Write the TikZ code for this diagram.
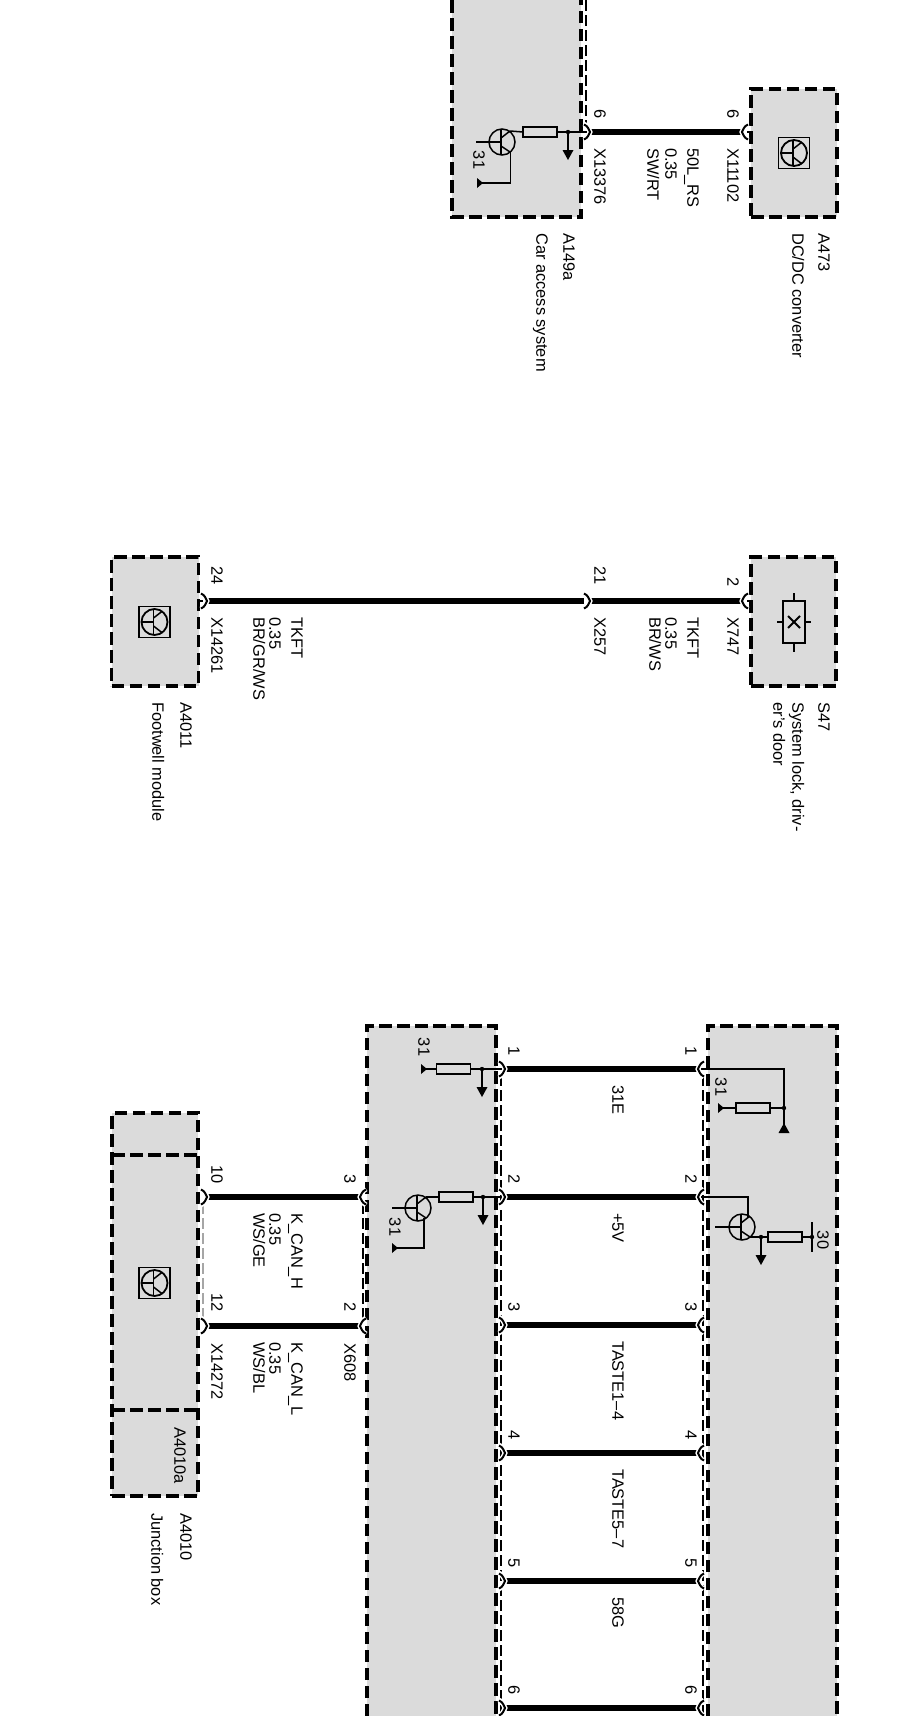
\documentclass[tikz,border=0pt]{standalone}
\usepackage{fontspec}
\setmainfont{Liberation Sans}
\definecolor{unitgray}{HTML}{DBDBDB}
\tikzset{
  boxline/.style={line width=3.5pt,dash pattern=on 12.5pt off 5.5pt},
  unitbox/.style={draw,fill=unitgray,boxline,inner sep=0pt},
  thindash/.style={line width=1.3pt,dash pattern=on 11pt off 4pt},
  wire/.style={line width=5.2pt},
  sym/.style={line width=1.5pt},
  res/.style={draw,line width=1.5pt,fill=unitgray,minimum width=34pt,minimum height=10pt,inner sep=0pt},
  lab/.style={rotate=-90,inner sep=0pt,text height=11.5pt,text depth=0pt,font=\fontsize{16.4}{18}\selectfont},
  labs/.style={lab,anchor=west},
  labe/.style={lab,anchor=east},
  labc/.style={lab,anchor=center},
}
% connector chevron: tip at (x,y), dir +1 = tip to the right
\newcommand{\conn}[3]{%
  \draw[white,line width=5pt] ({#1-6*#3},#2-8) .. controls ({#1-2*#3},#2-6) and ({#1-1*#3},#2-2) .. (#1,#2)
     .. controls ({#1-1*#3},#2+2) and ({#1-2*#3},#2+6) .. ({#1-6*#3},#2+8);
  \draw[line width=2pt] ({#1-6*#3},#2-7.5) .. controls ({#1-2*#3},#2-6) and ({#1-1*#3},#2-2) .. (#1,#2)
     .. controls ({#1-1*#3},#2+2) and ({#1-2*#3},#2+6) .. ({#1-6*#3},#2+7.5);}
\newcommand{\wirerun}[4]{%
  \coordinate (#1a) at (#2,#3); \coordinate (#1b) at (#4,#3);
  \draw[wire] (#1a) -- (#1b);}
% transistor body
\newcommand{\tran}[2]{%
  \draw[sym] (#1,#2) circle (13);
  \draw[sym] (#1-1,#2-12) -- (#1-1,#2+12);
  \draw[sym] (#1-1,#2-4) -- (#1+8,#2-11);
  \draw[sym] (#1-1,#2+4) -- (#1+8,#2+10);}
% control unit icon
\newcommand{\icon}[2]{%
  \draw[line width=1.6pt] (#1-15.5,#2-15.5) rectangle (#1+15.5,#2+15.5);
  \draw[line width=1.8pt] (#1,#2) circle (13);
  \draw[line width=1.5pt] (#1-13,#2) -- (#1-1,#2);
  \draw[line width=1.5pt] (#1-1,#2-12) -- (#1-1,#2+12);
  \draw[line width=1.5pt] (#1-1,#2-4) -- (#1+8,#2-11);
  \draw[line width=1.5pt] (#1-1,#2+4) -- (#1+8,#2+11);}
\newcommand{\darr}[3]{%
  \draw[sym] (#1,#2) -- (#1,#3-8);
  \fill (#1-5.5,#3-10) -- (#1+5.5,#3-10) -- (#1,#3) -- cycle;
  \fill (#1,#2) circle (2.2);}
\newcommand{\gndl}[2]{\fill (#1,#2-5) -- (#1+6,#2) -- (#1,#2+5) -- cycle;}
\begin{document}
\begin{tikzpicture}[x=1pt,y=-1pt]
\useasboundingbox (0,0) rectangle (909,1732);
\fill[white] (0,0) rectangle (909,1732);

% ---------- top group
\fill[unitgray] (452,0) rectangle (581,217);
\draw[boxline] (452,0) -- (452,217) -- (581,217) -- (581,0);
\node[unitbox,minimum width=86pt,minimum height=128pt] (a473) at (794,153) {};
\draw[thindash] (586,0) -- (586,126);
\icon{794}{153}
\tran{502}{142}
\draw[sym] (476,142) -- (501,142);
\draw[sym] (510,131) -- (523,132);
\node[res] (r1) at (540,132) {};
\draw[sym] (r1.east) -- (590,132);
\draw[sym] (510.5,152) -- (510.5,183) -- (480,183);
\gndl{477}{183}
\darr{568}{132}{160}
\node[labc] (t31a) at (479,160) {31};
\wirerun{wA}{590}{132}{742}
\draw[sym] (747,132) -- (751,132);
\conn{590}{132}{1}\conn{742}{132}{-1}
\node[labe] (n6a) at (600,119) {6};
\node[labe] (n6b) at (733,119) {6};
\node[labs] (x13376) at (600,148) {X13376};
\node[labs] (x11102) at (733,148) {X11102};
\node[labs] (l50) at (693,148) {50L\_RS};
\node[labs] (l035a) at (671,148) {0.35};
\node[labs] (lswrt) at (653,148) {SW/RT};
\node[labs] (a149a) at (569,233) {A149a};
\node[labs] (car) at (542,233) {Car access system};
\node[labs] (a473t) at (824,233) {A473};
\node[labs] (dcdc) at (798,233) {DC/DC converter};

% ---------- middle group
\node[unitbox,minimum width=87pt,minimum height=129pt] (a4011) at (155,621.5) {};
\node[unitbox,minimum width=85pt,minimum height=129pt] (s47) at (793.5,621.5) {};
\icon{154.5}{622}
\draw[sym] (783,601) rectangle (805,643);
\draw[sym] (794,593) -- (794,601) (794,643) -- (794,652) (777,622) -- (783,622) (805,622) -- (811,622);
\draw[line width=1.8pt] (788,616) -- (800,628) (788,628) -- (800,616);
\draw[sym] (198,601) -- (203,601) (747,601) -- (751,601);
\wirerun{wB}{207}{601}{584}
\wirerun{wC}{590}{601}{742}
\conn{207}{601}{1}\conn{590}{601}{1}\conn{742}{601}{-1}
\node[labe] (n24) at (217,585) {24};
\node[labe] (n21) at (600,585) {21};
\node[labe] (n2m) at (733,587) {2};
\node[labs] (x14261) at (217,617) {X14261};
\node[labs] (x257) at (600,617) {X257};
\node[labs] (x747) at (733,617) {X747};
\node[labs] (tk1) at (297,617) {TKFT};
\node[labs] (tk1b) at (275,617) {0.35};
\node[labs] (tk1c) at (259,617) {BR/GR/WS};
\node[labs] (tk2) at (693,617) {TKFT};
\node[labs] (tk2b) at (671,617) {0.35};
\node[labs] (tk2c) at (655,617) {BR/WS};
\node[labs] (a4011t) at (186,702) {A4011};
\node[labs] (foot) at (158,702) {Footwell module};
\node[labs] (s47t) at (824,702) {S47};
\node[labs] (sys) at (798,702) {System lock, driv-};
\node[labs] (sys2) at (779,702) {er's door};

% ---------- lower group
\fill[unitgray] (367,1026) rectangle (496,1716);
\fill[unitgray] (708,1026) rectangle (837,1716);
\draw[boxline] (367,1716) -- (367,1026) -- (496,1026) -- (496,1716);
\draw[boxline] (708,1716) -- (708,1026) -- (837,1026) -- (837,1716);
\draw[thindash] (501,1075) -- (501,1716);
\draw[thindash] (703,1075) -- (703,1716);
\draw[thindash] (363,1203) -- (363,1320);
\draw[thindash,gray!70] (203,1203) -- (203,1320);

\node[unitbox,minimum width=86pt,minimum height=383pt] (a4010) at (155,1304.5) {};
\draw[boxline] (112,1155) -- (198,1155) (112,1410) -- (198,1410);
\icon{154.5}{1283}

% left unit symbols
\gndl{421}{1069}
\node[res] (r2) at (453.5,1069) {};
\draw[sym] (424,1069) -- (r2.west);
\draw[sym] (r2.east) -- (503,1069);
\darr{482}{1069}{1097}
\node[labc] (t31b) at (424,1047) {31};
\tran{418}{1208}
\draw[sym] (392,1208) -- (417,1208);
\node[res] (r3) at (456,1197) {};
\draw[sym] (426,1197) -- (r3.west);
\draw[sym] (r3.east) -- (503,1197);
\darr{483}{1197}{1225}
\draw[sym] (424,1218) -- (424,1248) -- (395,1248);
\gndl{392}{1248}
\node[labc] (t31c) at (395,1227) {31};

% right unit symbols
\draw[sym] (699,1069) -- (784,1069) -- (784,1125);
\fill (784,1108) circle (2.2);
\fill (784,1123) -- (789.5,1133) -- (778.5,1133) -- cycle;
\node[res] (r4) at (753,1108) {};
\draw[sym] (r4.east) -- (784,1108);
\draw[sym] (721,1108) -- (r4.west);
\gndl{718}{1108}
\node[labc] (t31d) at (721,1087) {31};
\draw[sym] (699,1197) -- (748,1197) -- (748,1217);
\tran{742}{1227}
\draw[sym] (715,1227) -- (741,1227);
\node[res] (r5) at (785,1237) {};
\draw[sym] (750,1237) -- (r5.west);
\draw[sym] (r5.east) -- (812,1237);
\draw[line width=1.8pt] (812,1222) -- (812,1252);
\fill (812,1237) circle (2.2);
\darr{761}{1237}{1265}
\node[labc] (t30) at (823,1240) {30};

% wires
\wirerun{wD}{505}{1069}{698}
\wirerun{wE}{505}{1197}{698}
\wirerun{wF}{505}{1325}{698}
\wirerun{wG}{505}{1453}{698}
\wirerun{wH}{505}{1581}{698}
\wirerun{wI}{505}{1708}{698}
\foreach \yy in {1069,1197,1325,1453,1581,1708}{\conn{505}{\yy}{1}\conn{698}{\yy}{-1}}
\wirerun{wJ}{207}{1197}{360}
\wirerun{wK}{207}{1326}{360}
\foreach \yy in {1197,1326}{\conn{207}{\yy}{1}\conn{360}{\yy}{-1}}
\fill[white] (0,1716) rectangle (909,1732);

% pin numbers
\foreach \yy/\nn in {1069/1,1197/2,1325/3,1453/4,1581/5,1708/6}{
  \node[labe] at (514,\yy-13) {\nn};
  \node[labe] at (691,\yy-13) {\nn};}
\node[labs] (t1) at (618,1085) {31E};
\node[labs] (t2) at (618,1213) {+5V};
\node[labs] (t3) at (618,1341) {TASTE1--4};
\node[labs] (t4) at (618,1469) {TASTE5--7};
\node[labs] (t5) at (618,1597) {58G};

% lower left labels
\node[labe] (n10) at (217,1184) {10};
\node[labe] (n12) at (217,1312) {12};
\node[labe] (n3l) at (350,1184) {3};
\node[labe] (n2l) at (350,1312) {2};
\node[labs] (x14272) at (217,1343) {X14272};
\node[labs] (x608) at (350,1343) {X608};
\node[labs] (kh) at (297,1213) {K\_CAN\_H};
\node[labs] (kh2) at (275,1213) {0.35};
\node[labs] (kh3) at (259,1213) {WS/GE};
\node[labs] (kl) at (297,1342) {K\_CAN\_L};
\node[labs] (kl2) at (275,1342) {0.35};
\node[labs] (kl3) at (259,1342) {WS/BL};
\node[labs] (a4010a) at (180,1427) {A4010a};
\node[labs] (a4010t) at (186,1513) {A4010};
\node[labs] (junc) at (157,1513) {Junction box};
\end{tikzpicture}
\end{document}
